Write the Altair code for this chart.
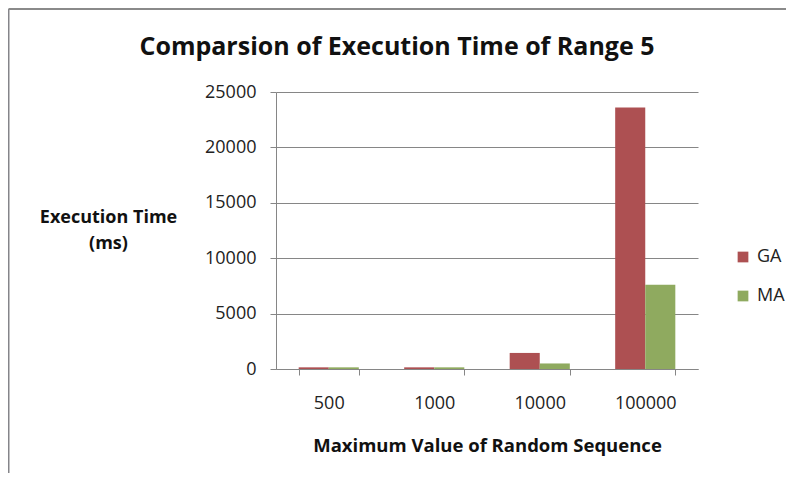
import altair as alt
import pandas as pd

categories = ["500", "1000", "10000", "100000"]
ga_values = [150, 150, 1450, 23600]
ma_values = [150, 150, 500, 7600]
series = ["GA", "MA"]

rows = []
for c, g, m in zip(categories, ga_values, ma_values):
    rows.append({"range": c, "algo": "GA", "time": g})
    rows.append({"range": c, "algo": "MA", "time": m})
df = pd.DataFrame(rows)

FONT = "Open Sans"

bars = alt.Chart(df).mark_bar().encode(
    x=alt.X("range:N", sort=categories,
            scale=alt.Scale(paddingInner=0.43, paddingOuter=0.215),
            axis=alt.Axis(title="Maximum Value of Random Sequence", labelAngle=0,
                          tickBand="extent", tickSize=6, labelPadding=19,
                          titlePadding=24, domainColor="#868686", tickColor="#868686",
                          labelFontSize=18, titleFontSize=18.5, titleFontWeight="bold",
                          labelColor="#222", titleColor="#111")),
    xOffset=alt.XOffset("algo:N", sort=series),
    y=alt.Y("time:Q", scale=alt.Scale(domain=[0, 25000]),
            axis=alt.Axis(values=[0, 5000, 10000, 15000, 20000, 25000], format="d",
                          title=["Execution Time", "(ms)"], titleAngle=0,
                          titleAlign="center", titleBaseline="middle",
                          titleX=-168, titleY=125, titleLineHeight=26,
                          titleFontSize=18, titleFontWeight="bold",
                          tickSize=6, labelPadding=14, gridColor="#868686",
                          domainColor="#868686", tickColor="#868686",
                          labelFontSize=18, labelColor="#222", titleColor="#111")),
    color=alt.Color("algo:N", sort=series,
                    scale=alt.Scale(domain=series, range=["#AD5052", "#8FAA5F"]),
                    legend=alt.Legend(title=None, orient="none", legendX=458, legendY=156,
                                      symbolType="square", symbolSize=115,
                                      labelFontSize=18, rowPadding=21, labelColor="#222",
                                      labelOffset=5, symbolStrokeWidth=0)),
)

frame_df = pd.DataFrame({"k": [0]})
frame_left = alt.Chart(frame_df).mark_rule(color="#85858a", strokeWidth=2).encode(
    x=alt.value(-267.5), y=alt.value(-83), y2=alt.value(400))
frame_top = alt.Chart(frame_df).mark_rule(color="#8a8a8a", strokeWidth=2).encode(
    x=alt.value(-267.5), x2=alt.value(520), y=alt.value(-83))

chart = alt.layer(bars, frame_left, frame_top).properties(
    width=422, height=277,
    title=alt.TitleParams("Comparsion of Execution Time of Range 5", fontSize=25,
                          fontWeight="bold", font=FONT, anchor="middle", dx=-90,
                          offset=-52, color="#111"),
    autosize=alt.AutoSizeParams(type="none"),
    padding={"left": 268, "top": 84, "right": 88, "bottom": 104},
).configure(font=FONT).configure_view(stroke=None).configure_axis(labelFont=FONT, titleFont=FONT)

chart.save("out.html", embed_options={"renderer": "svg", "actions": False})
